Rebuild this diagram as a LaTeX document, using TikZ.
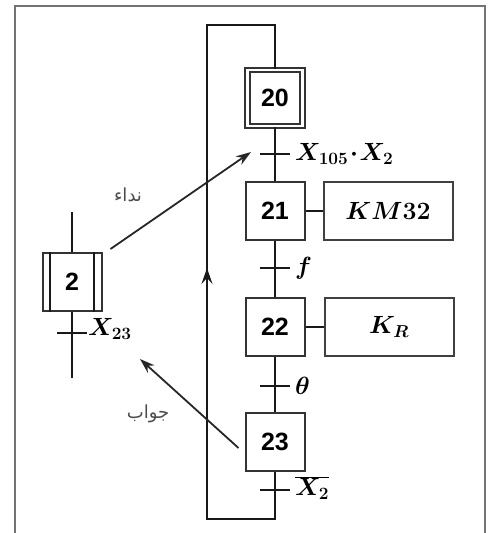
\documentclass[tikz,border=0pt]{standalone}
\usepackage{fontspec}
\setsansfont{Liberation Sans}
\newfontfamily\arabicfont[Script=Arabic]{DejaVu Sans}
\TeXXeTstate=1
\DeclareMathSizes{23}{23}{17}{13}
\usetikzlibrary{arrows.meta}

\tikzset{
  stepbox/.style={draw=black!80, line width=2pt, minimum width=59pt, minimum height=58pt,
    inner sep=0pt, font=\sffamily\bfseries\fontsize{25}{28}\selectfont},
  actbox/.style={draw=black!75, line width=2pt, minimum width=129pt, minimum height=58pt,
    inner sep=0pt, font=\boldmath\fontsize{23}{26}\selectfont},
  trans/.style={line width=2pt, black!90},
  link/.style={line width=2pt, black!90},
  lbl/.style={inner sep=0pt, font=\boldmath\fontsize{23}{26}\selectfont},
  arlbl/.style={inner sep=0pt, black!70, font=\arabicfont\fontsize{18}{20}\selectfont},
  msg/.style={line width=1.8pt, black!85, -{Stealth[length=15pt,width=10pt]}},
  frame/.style={line width=2.4pt, black!55},
}

\begin{document}
\begin{tikzpicture}[x=1pt, y=-1pt]
  \useasboundingbox (0,0) rectangle (490,533);

  % outer frame
  \draw[frame] (15,533) -- (15,6) -- (485,6) -- (485,533);

  % main sequence
  \node[stepbox, double, double distance=2.6pt, minimum width=55pt, minimum height=56pt] (s20) at (275,98) {20};
  \node[stepbox] (s21) at (275,211) {21};
  \node[stepbox] (s22) at (275,327) {22};
  \node[stepbox] (s23) at (275,442) {23};

  % actions
  \node[actbox] (a21) at (388,211) {$KM32$};
  \node[actbox] (a22) at (389,327) {$K_R$};
  \draw[link] (s21.east) -- (a21.west);
  \draw[link] (s22.east) -- (a22.west);

  \draw[link] (s20.south) -- (s21.north) (s21.south) -- (s22.north) (s22.south) -- (s23.north);

  % transitions
  \foreach \nm/\y in {t20/154, t21/268, t22/386, t23/490} {
    \coordinate (\nm) at (275,\y);
    \draw[trans] ([xshift=-15pt]\nm) -- ([xshift=15pt]\nm);
  }
  \node[lbl, anchor=west] (c20) at ([xshift=20pt]t20) {$X_{105}\!\cdot\! X_2$};
  \node[lbl, anchor=west] (c21) at ([xshift=20pt]t21) {$f$};
  \node[lbl, anchor=west] (c22) at ([xshift=20pt]t22) {$\theta$};
  \node[lbl, anchor=west] (c23) at ([xshift=20pt,yshift=2pt]t23) {$\overline{X_2}$};

  % loop back to 20
  \coordinate (loopbl) at (207,519);
  \coordinate (looptl) at (207,25);
  \coordinate (loopup) at (207,268);
  \draw[link] (s23.south) |- (loopbl) -- (looptl) -| (s20.north);
  \draw[link, -{Stealth[length=16pt,width=11pt,inset=6pt]}] (loopbl) -- (loopup);

  % step 2
  \node[stepbox] (s2) at (72,282) {2};
  \draw[link] ([xshift=8pt]s2.north west) -- ([xshift=8pt]s2.south west);
  \draw[link] ([xshift=-9pt]s2.north east) -- ([xshift=-9pt]s2.south east);
  \coordinate (s2top) at (72,212);
  \coordinate (s2bot) at (72,378);
  \coordinate (t2) at (72,333);
  \draw[link] (s2top) -- (s2.north) (s2.south) -- (s2bot);
  \draw[trans] ([xshift=-15pt]t2) -- ([xshift=15pt]t2);
  \node[lbl, anchor=west] (c2) at ([xshift=16pt,yshift=4pt]t2) {$X_{23}$};

  % call / answer
  \coordinate (callend) at (251,152);
  \coordinate (ansend) at (140,359);
  \draw[msg] ([shift={(8pt,3pt)}]s2.north east) -- (callend);
  \draw[msg] ([shift={(-6pt,-6pt)}]s23.west) -- (ansend);
  \node[arlbl] (call) at (128,195) {\beginR نداء\endR};
  \node[arlbl] (answer) at (148,414) {\beginR جواب\endR};
\end{tikzpicture}
\end{document}
